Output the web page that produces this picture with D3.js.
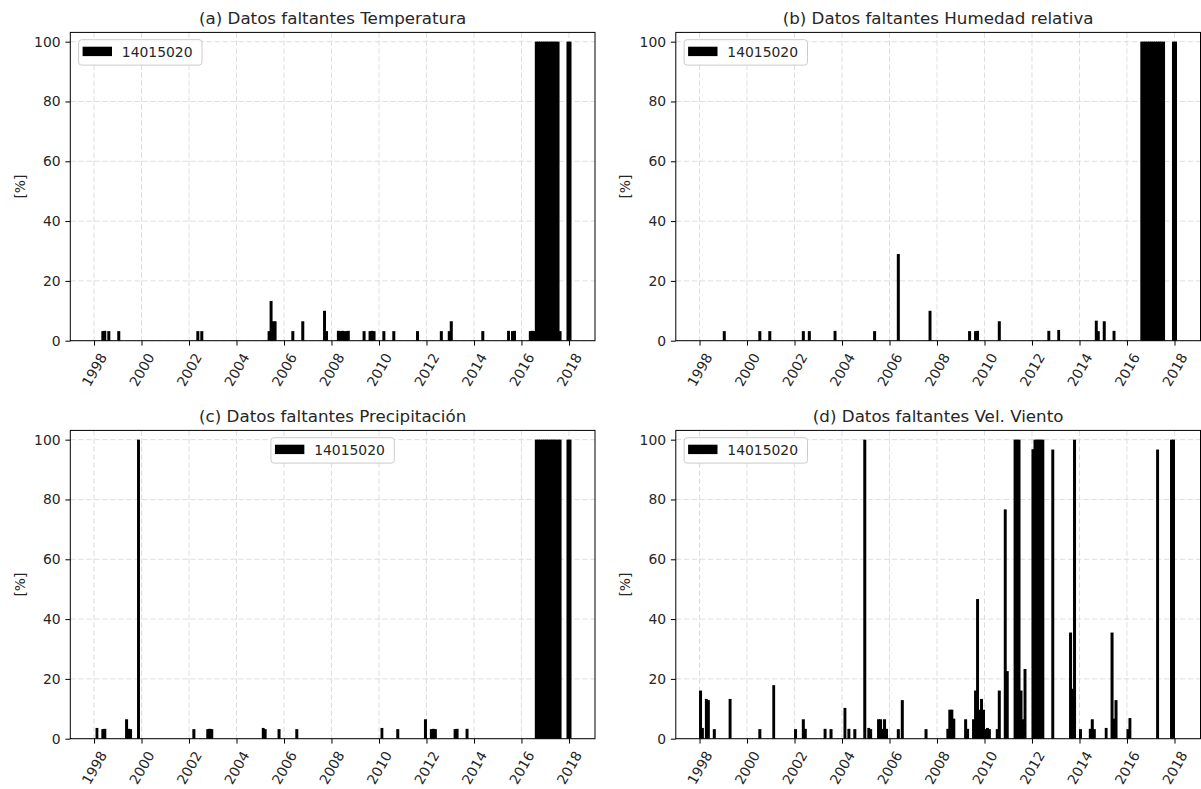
<!DOCTYPE html>
<html>
<head>
<meta charset="utf-8">
<script src="https://cdn.jsdelivr.net/npm/d3@7"></script>
<style>
  html, body { margin: 0; padding: 0; background: #ffffff; }
  svg { display: block; font-family: "DejaVu Sans", sans-serif; }
</style>
</head>
<body>
<svg id="chart" width="1201" height="789"></svg>
<script>
// Monthly share of missing records (%) for station 14015020, one entry per month with gaps.
const temperatura = [
  ["1998-05", 3.2], ["1998-06", 3.3], ["1998-08", 3.2], ["1999-01", 3.2],
  ["2002-05", 3.2], ["2002-07", 3.2],
  ["2005-05", 3.2], ["2005-06", 13.3], ["2005-07", 6.5], ["2005-08", 6.5],
  ["2006-05", 3.2], ["2006-10", 6.5], ["2007-09", 10.0], ["2007-10", 3.2],
  ["2008-04", 3.3], ["2008-05", 3.2], ["2008-06", 3.3], ["2008-07", 3.2], ["2008-08", 3.2], ["2008-09", 3.3],
  ["2009-05", 3.2], ["2009-08", 3.2], ["2009-09", 3.3], ["2009-10", 3.2],
  ["2010-03", 3.2], ["2010-08", 3.2], ["2011-08", 3.2], ["2012-08", 3.2],
  ["2012-12", 3.2], ["2013-01", 6.5], ["2014-05", 3.2],
  ["2015-06", 3.3], ["2015-08", 3.2], ["2015-09", 3.3],
  ["2016-05", 3.2], ["2016-06", 3.3], ["2016-07", 3.2],
  ["2016-08", 100], ["2016-09", 100], ["2016-10", 100], ["2016-11", 100], ["2016-12", 100], ["2017-01", 100],
  ["2017-02", 100], ["2017-03", 100], ["2017-04", 100], ["2017-05", 100], ["2017-06", 100], ["2017-07", 100],
  ["2017-08", 3.2], ["2017-12", 100], ["2018-01", 100]
];

const humedad = [
  ["1999-01", 3.2], ["2000-07", 3.2], ["2000-12", 3.2], ["2002-05", 3.2], ["2002-08", 3.2],
  ["2003-09", 3.3], ["2005-05", 3.2], ["2006-05", 29.0], ["2007-09", 10.0],
  ["2009-05", 3.2], ["2009-08", 3.2], ["2009-09", 3.3], ["2010-08", 6.5],
  ["2012-09", 3.3], ["2013-02", 3.6], ["2014-09", 6.7], ["2014-10", 3.2], ["2015-01", 6.5], ["2015-06", 3.3],
  ["2016-08", 100], ["2016-09", 100], ["2016-10", 100], ["2016-11", 100], ["2016-12", 100], ["2017-01", 100],
  ["2017-02", 100], ["2017-03", 100], ["2017-04", 100], ["2017-05", 100], ["2017-06", 100], ["2017-07", 100],
  ["2017-12", 100], ["2018-01", 100]
];

const precipitacion = [
  ["1998-02", 3.6], ["1998-05", 3.2], ["1998-06", 3.3],
  ["1999-05", 6.5], ["1999-06", 3.3], ["1999-07", 3.2], ["1999-11", 100],
  ["2002-03", 3.2], ["2002-10", 3.2], ["2002-11", 3.3], ["2002-12", 3.2],
  ["2005-02", 3.6], ["2005-03", 3.2], ["2005-10", 3.2], ["2006-07", 3.2],
  ["2010-02", 3.6], ["2010-10", 3.2], ["2011-12", 6.5],
  ["2012-03", 3.2], ["2012-04", 3.3], ["2012-05", 3.2],
  ["2013-03", 3.2], ["2013-04", 3.3], ["2013-09", 3.3],
  ["2016-08", 100], ["2016-09", 100], ["2016-10", 100], ["2016-11", 100], ["2016-12", 100], ["2017-01", 100],
  ["2017-02", 100], ["2017-03", 100], ["2017-04", 100], ["2017-05", 100], ["2017-06", 100], ["2017-07", 100],
  ["2017-08", 100], ["2017-12", 100], ["2018-01", 100]
];

const velViento = [
  ["1998-01", 16.1], ["1998-02", 3.6], ["1998-04", 13.3], ["1998-05", 12.9], ["1998-08", 3.2],
  ["1999-04", 13.3], ["2000-07", 3.2], ["2001-02", 17.9], ["2002-01", 3.2],
  ["2002-05", 6.5], ["2002-06", 3.3], ["2003-04", 3.3], ["2003-07", 3.2],
  ["2004-02", 10.3], ["2004-04", 3.3], ["2004-07", 3.2], ["2004-12", 100],
  ["2005-02", 3.6], ["2005-03", 3.2], ["2005-07", 6.5], ["2005-08", 6.5], ["2005-09", 3.3],
  ["2005-10", 6.5], ["2005-11", 3.3], ["2006-05", 3.2], ["2006-07", 12.9], ["2007-07", 3.2],
  ["2008-06", 3.3], ["2008-07", 9.7], ["2008-08", 9.7], ["2008-09", 6.7],
  ["2009-03", 6.5], ["2009-04", 3.3], ["2009-07", 6.5], ["2009-08", 16.1], ["2009-09", 46.7],
  ["2009-10", 9.7], ["2009-11", 13.3], ["2009-12", 9.7], ["2010-01", 3.2], ["2010-02", 3.6], ["2010-03", 3.2],
  ["2010-07", 3.2], ["2010-08", 16.1], ["2010-11", 76.7], ["2010-12", 22.6],
  ["2011-04", 100], ["2011-05", 100], ["2011-06", 100], ["2011-07", 16.1], ["2011-08", 6.5], ["2011-09", 23.3],
  ["2012-01", 96.8], ["2012-02", 100], ["2012-03", 100], ["2012-04", 100], ["2012-05", 100], ["2012-06", 100],
  ["2012-11", 96.7], ["2013-08", 35.5], ["2013-09", 16.7], ["2013-10", 100],
  ["2014-01", 3.2], ["2014-06", 3.3], ["2014-07", 6.5], ["2014-08", 3.2],
  ["2015-02", 3.6], ["2015-05", 35.5], ["2015-06", 6.7], ["2015-07", 12.9],
  ["2016-01", 3.2], ["2016-02", 6.9], ["2017-04", 96.7], ["2017-11", 100], ["2017-12", 100]
];

const titles = [
  "(a) Datos faltantes Temperatura",
  "(b) Datos faltantes Humedad relativa",
  "(c) Datos faltantes Precipitación",
  "(d) Datos faltantes Vel. Viento"
];
const stationLabel = "14015020";
const yTicks = [0, 20, 40, 60, 80, 100];
const yLabel = "[%]";

// Layout
const W = 524.7, H = 308.3;
const FONT = 13.9, TITLE_FONT = 16.7;
const TEXT = "#262626";
const panels = [
  { title: titles[0], data: temperatura,   left: 70.3,  top: 32.4,  legend: "left" },
  { title: titles[1], data: humedad,       left: 675.8, top: 32.4,  legend: "left" },
  { title: titles[2], data: precipitacion, left: 70.3,  top: 430.4, legend: "center" },
  { title: titles[3], data: velViento,     left: 675.8, top: 430.4, legend: "left" }
];

const parseMonth = d3.timeParse("%Y-%m");
const x = d3.scaleTime()
  .domain([new Date(1997, 0, 1), new Date(2019, 1, 5)])
  .range([0, W]);
const y = d3.scaleLinear().domain([0, 103.1]).range([H, 0]);
const xTickValues = x.ticks(d3.timeYear.every(2));

// each bar covers its calendar month, widened slightly so consecutive months join without seams
const BAR_PAD = 1.0;
const barX = d => x(parseMonth(d[0])) - BAR_PAD / 2;
const barW = d => x(d3.timeMonth.offset(parseMonth(d[0]), 1)) - x(parseMonth(d[0])) + BAR_PAD;

const svg = d3.select("#chart");
svg.append("rect").attr("width", 1201).attr("height", 789).attr("fill", "#ffffff");

panels.forEach(p => {
  const g = svg.append("g").attr("transform", `translate(${p.left},${p.top})`);

  // dashed grid
  const grid = g.append("g").attr("stroke", "#dadada").attr("stroke-width", 0.9)
    .attr("stroke-dasharray", "5.5,2.5").attr("fill", "none");
  grid.selectAll("line.gx").data(xTickValues).join("line")
    .attr("x1", d => x(d)).attr("x2", d => x(d)).attr("y1", 0).attr("y2", H);
  grid.selectAll("line.gy").data(yTicks).join("line")
    .attr("x1", 0).attr("x2", W).attr("y1", d => y(d)).attr("y2", d => y(d));

  // monthly bars
  g.append("g").attr("fill", "#000000")
    .selectAll("rect").data(p.data).join("rect")
    .attr("x", barX)
    .attr("width", barW)
    .attr("y", d => y(d[1]))
    .attr("height", d => H - y(d[1]));

  // axes
  const xAxis = g.append("g").attr("transform", `translate(0,${H})`)
    .call(d3.axisBottom(x).tickValues(xTickValues).tickFormat(d3.timeFormat("%Y"))
      .tickSize(4.9).tickSizeOuter(0));
  xAxis.select(".domain").remove();
  xAxis.selectAll(".tick line").attr("stroke", "#000").attr("stroke-width", 1);
  xAxis.selectAll(".tick text")
    .attr("font-family", "DejaVu Sans").attr("font-size", FONT).attr("fill", TEXT)
    .attr("text-anchor", "start").attr("dy", null)
    .attr("x", -4.7).attr("y", 46.9)
    .attr("transform", "rotate(-60,-4.7,46.9)");

  const yAxis = g.append("g")
    .call(d3.axisLeft(y).tickValues(yTicks).tickSize(4.9).tickPadding(4.8).tickSizeOuter(0));
  yAxis.select(".domain").remove();
  yAxis.selectAll(".tick line").attr("stroke", "#000").attr("stroke-width", 1);
  yAxis.selectAll(".tick text")
    .attr("font-family", "DejaVu Sans").attr("font-size", FONT).attr("fill", TEXT);

  // frame
  g.append("rect").attr("x", 0).attr("y", 0).attr("width", W).attr("height", H)
    .attr("fill", "none").attr("stroke", "#000").attr("stroke-width", 1);

  // title
  g.append("text").attr("x", W / 2).attr("y", -8.6)
    .attr("text-anchor", "middle").attr("font-size", TITLE_FONT).attr("fill", TEXT)
    .text(p.title);

  // y label
  const ylx = p.left < 300 ? 20 - p.left : 624.7 - p.left;
  g.append("text")
    .attr("transform", `translate(${ylx},${H / 2}) rotate(-90)`)
    .attr("text-anchor", "middle").attr("dominant-baseline", "central")
    .attr("font-size", FONT).attr("fill", TEXT).text(yLabel);

  // legend
  const lw = 123.4, lh = 25.4;
  const lx = p.legend === "center" ? W / 2 - lw / 2 : 8.3;
  const ly = 7.3;
  const lg = g.append("g").attr("transform", `translate(${lx},${ly})`);
  lg.append("rect").attr("width", lw).attr("height", lh).attr("rx", 3)
    .attr("fill", "#ffffff").attr("fill-opacity", 0.85)
    .attr("stroke", "#cccccc").attr("stroke-width", 1);
  lg.append("rect").attr("x", 4).attr("y", 7).attr("width", 29.4).attr("height", 9.4)
    .attr("fill", "#000000");
  lg.append("text").attr("x", 43.2).attr("y", 16.9)
    .attr("font-size", FONT).attr("fill", TEXT).text(stationLabel);
});
</script>
</body>
</html>
